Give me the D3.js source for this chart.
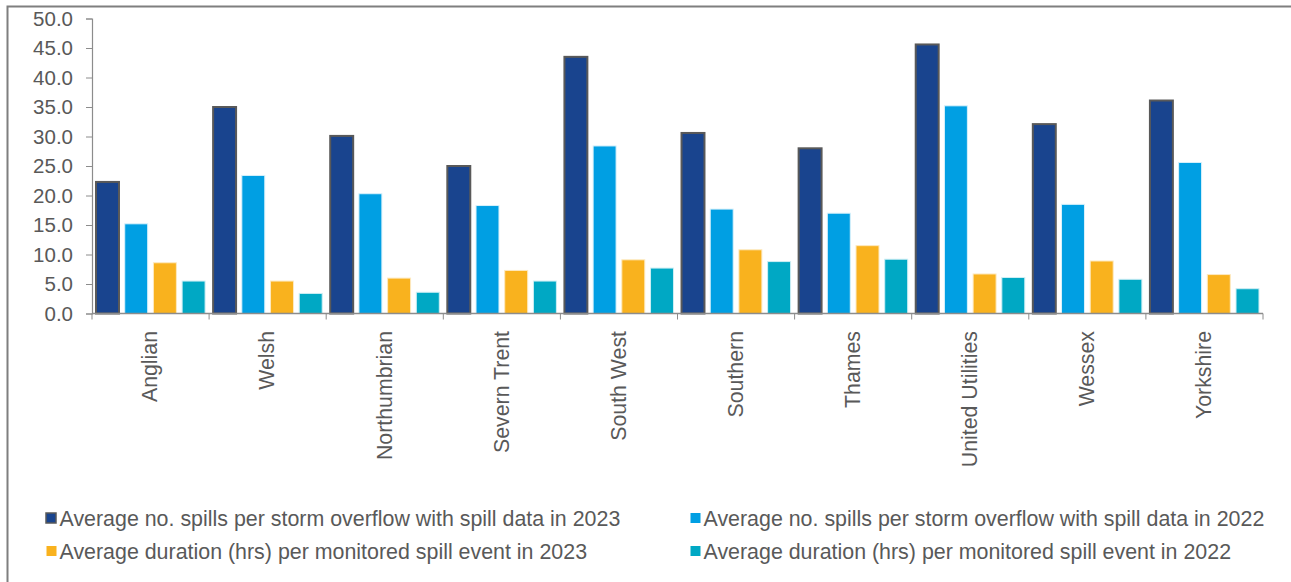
<!DOCTYPE html>
<html>
<head>
<meta charset="utf-8">
<script src="https://cdn.jsdelivr.net/npm/d3@7"></script>
<style>
  html, body { margin: 0; padding: 0; background: #ffffff; }
  svg { display: block; }
  text { font-family: "Liberation Sans", Arial, sans-serif; fill: #595959; }
</style>
</head>
<body>
<svg id="chart" width="1291" height="582"></svg>
<script>
const categories = ["Anglian", "Welsh", "Northumbrian", "Severn Trent", "South West", "Southern", "Thames", "United Utilities", "Wessex", "Yorkshire"];
const seriesNames = [
  "Average no. spills per storm overflow with spill data in 2023",
  "Average no. spills per storm overflow with spill data in 2022",
  "Average duration (hrs) per monitored spill event in 2023",
  "Average duration (hrs) per monitored spill event in 2022"
];
const spills2023 = [22.3, 35.0, 30.1, 25.0, 43.5, 30.6, 28.0, 45.6, 32.1, 36.1];
const spills2022 = [15.2, 23.4, 20.3, 18.3, 28.4, 17.7, 17.0, 35.2, 18.5, 25.6];
const duration2023 = [8.6, 5.5, 6.0, 7.3, 9.1, 10.8, 11.5, 6.7, 8.9, 6.6];
const duration2022 = [5.5, 3.4, 3.6, 5.5, 7.7, 8.8, 9.2, 6.1, 5.8, 4.2];
const yTicks = [0, 5, 10, 15, 20, 25, 30, 35, 40, 45, 50];

const seriesValues = [spills2023, spills2022, duration2023, duration2022];
const colors = ["#19448E", "#009FE3", "#F9B21E", "#00A8C4"];
const strokes = ["#595959", "#d8f1fb", "#fde9c0", "#cdeef4"];
const strokeW = [2, 1, 1, 1];

const svg = d3.select("#chart");

// outer frame (top and left visible)
svg.append("rect")
  .attr("x", 7.5).attr("y", 6.5)
  .attr("width", 1300).attr("height", 600)
  .attr("fill", "none").attr("stroke", "#7f7f7f").attr("stroke-width", 2);

const x0 = d3.scaleBand().domain(categories).range([92, 1263]).padding(0);
const x1 = d3.scaleBand().domain(d3.range(4)).range([0, x0.bandwidth()])
  .paddingInner(0.2).paddingOuter(0.14);
const y = d3.scaleLinear().domain([0, 50]).range([313.5, 18.5]);

// bars
const groups = svg.append("g").selectAll("g")
  .data(categories).join("g")
  .attr("transform", c => `translate(${x0(c)},0)`);

groups.selectAll("rect")
  .data((c, ci) => seriesValues.map((vals, si) => ({ si, v: vals[ci] })))
  .join("rect")
  .attr("x", d => x1(d.si))
  .attr("width", x1.bandwidth())
  .attr("y", d => y(d.v))
  .attr("height", d => y(0) - y(d.v))
  .attr("fill", d => colors[d.si])
  .attr("stroke", d => strokes[d.si])
  .attr("stroke-width", d => strokeW[d.si]);

// y axis
const yAxis = d3.axisLeft(y).tickValues(yTicks).tickFormat(d3.format(".1f")).tickSize(6).tickPadding(13);
const gy = svg.append("g").attr("transform", "translate(92,0)").call(yAxis);
gy.select(".domain").attr("stroke", "#8c8c8c").attr("stroke-width", 1.2);
gy.selectAll(".tick line").attr("stroke", "#8c8c8c");
gy.selectAll("text").style("font-size", "20.5px").attr("fill", "#595959")
  .style("font-family", "'Liberation Sans', Arial, sans-serif");

// x axis
const gx = svg.append("g").attr("transform", "translate(0,313.5)");
gx.append("line").attr("x1", 92).attr("x2", 1263).attr("y1", 0).attr("y2", 0)
  .attr("stroke", "#8c8c8c").attr("stroke-width", 1.5);
const boundaries = categories.map(c => x0(c)).concat([x0.range()[1]]);
gx.selectAll("line.tk").data(boundaries).join("line").attr("class", "tk")
  .attr("x1", d => d).attr("x2", d => d).attr("y1", 0).attr("y2", 6)
  .attr("stroke", "#8c8c8c");

svg.append("g").selectAll("text")
  .data(categories).join("text")
  .attr("transform", c => `translate(${x0(c) + x0.bandwidth() / 2},331) rotate(-90)`)
  .attr("text-anchor", "end")
  .attr("dy", "0.32em")
  .style("font-size", "21.3px")
  .text(c => c);

// legend
const legendPos = [
  { x: 45, y: 518 },
  { x: 689, y: 518 },
  { x: 45, y: 551 },
  { x: 689, y: 551 }
];
const leg = svg.append("g").selectAll("g")
  .data(seriesNames).join("g")
  .attr("transform", (d, i) => `translate(${legendPos[i].x},${legendPos[i].y})`);
leg.append("rect")
  .attr("x", (d, i) => i === 0 ? 1 : 1.5).attr("y", -5)
  .attr("width", 10).attr("height", 10)
  .attr("fill", (d, i) => colors[i])
  .attr("stroke", (d, i) => i === 0 ? "#595959" : "none")
  .attr("stroke-width", 1.5);
leg.append("text")
  .attr("x", 14.5).attr("y", 0).attr("dy", "0.35em")
  .style("font-size", "21.4px")
  .text(d => d);
</script>
</body>
</html>
